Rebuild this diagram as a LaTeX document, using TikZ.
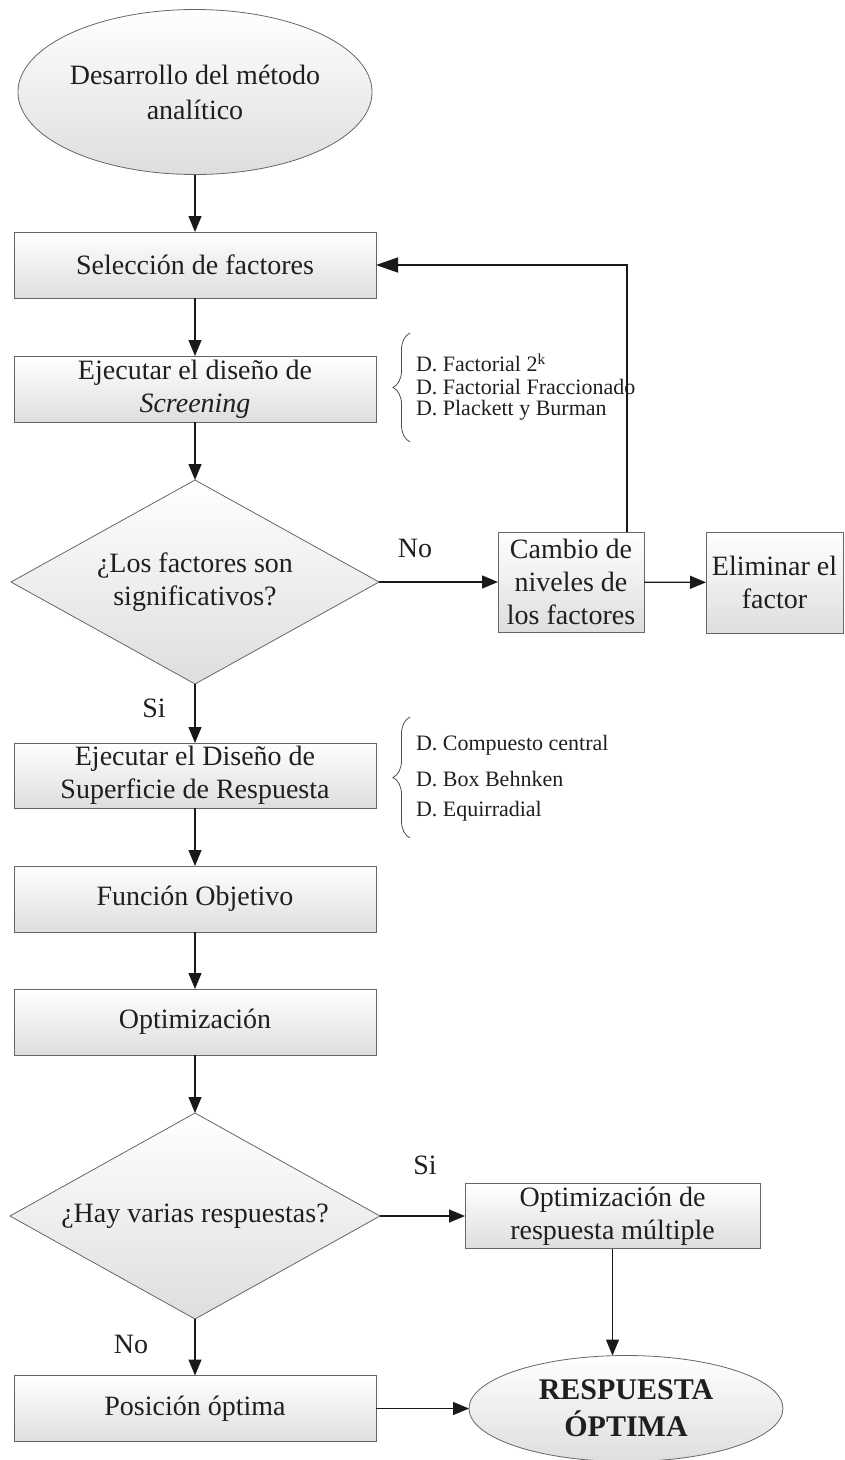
\documentclass[tikz,border=0pt]{standalone}
\usepackage{fontspec}
\setmainfont{Liberation Serif}
\usetikzlibrary{shapes.geometric,arrows.meta,decorations.pathreplacing}

\begin{document}
\begin{tikzpicture}[x=1pt,y=-1pt,
  every node/.style={inner sep=0pt, outer sep=0pt, text=black!88},
  shapebase/.style={draw=black!60, line width=0.8pt, top color=white, bottom color=black!13},
  procbox/.style={shapebase, rectangle, align=center, font=\fontsize{28}{33}\selectfont},
  termo/.style={shapebase, ellipse, align=center},
  decision/.style={shapebase, diamond, minimum width=368pt, minimum height=204pt},
  lbl/.style={font=\fontsize{28}{33}\selectfont, align=center},
  optlist/.style={font=\fontsize{22}{24}\selectfont, anchor=west, align=left},
  conn/.style={line width=1.2pt, draw=black!90, -{Triangle[length=16pt,width=13pt]}},
  bigconn/.style={line width=1.4pt, draw=black!90, -{Triangle[length=22pt,width=15pt]}},
  bracket/.style={draw=black!70, line width=0.8pt, decorate, decoration={brace, amplitude=17pt}}
]
\useasboundingbox (0,0) rectangle (845,1460);

% start
\node[termo, minimum width=330pt, minimum height=165pt,
      font=\fontsize{28}{35}\selectfont] (top) at (195,92)
  {Desarrollo del método\\analítico};

% main column
\node[procbox, minimum width=362pt, minimum height=66pt] (sel) at (195,265)
  {Selección de factores};
\node[procbox, minimum width=362pt, minimum height=66pt] (scr) at (195,389)
  {Ejecutar el diseño de\\\textit{Screening}};
\node[decision] (d1) at (195,582) {};
\node[lbl] (d1t) at (d1) {¿Los factores son\\significativos?};

\node[procbox, minimum width=146pt, minimum height=100pt] (cam) at (571,582)
  {Cambio de\\niveles de\\los factores};
\node[procbox, minimum width=137pt, minimum height=101pt] (eli) at (774.5,582.5)
  {Eliminar el\\factor};

\node[procbox, minimum width=362pt, minimum height=65pt] (sup) at (195,775.5)
  {Ejecutar el Diseño de\\Superficie de Respuesta};
\node[procbox, minimum width=362pt, minimum height=66pt] (fun) at (195,899)
  {Función Objetivo};
\node[procbox, minimum width=362pt, minimum height=66pt] (opt) at (195,1022)
  {Optimización};
\node[decision, minimum width=370pt, minimum height=206pt] (d2) at (195,1216) {};
\node[lbl] (d2t) at (d2) {¿Hay varias respuestas?};

\node[procbox, minimum width=295pt, minimum height=65pt] (mul) at (612.5,1216)
  {Optimización de\\respuesta múltiple};
\node[procbox, minimum width=362pt, minimum height=66pt] (pos) at (195,1408.5)
  {Posición óptima};
\node[termo, minimum width=314pt, minimum height=106pt,
      font=\fontsize{30}{37}\selectfont\bfseries] (res) at (626,1408.5)
  {RESPUESTA\\ÓPTIMA};

% design options
\draw[bracket] (410,442) -- (410,333);
\node[optlist] (l1a) at (416,363) {D. Factorial 2\textsuperscript{k}};
\node[optlist] (l1b) at (416,387) {D. Factorial Fraccionado};
\node[optlist] (l1c) at (416,410) {D. Plackett y Burman};

\draw[bracket] (410,838) -- (410,717);
\node[optlist] (l2a) at (416,745) {D. Compuesto central};
\node[optlist] (l2b) at (416,779) {D. Box Behnken};
\node[optlist] (l2c) at (416,811) {D. Equirradial};

% branch labels
\node[lbl] (no1) at (415,548) {No};
\node[lbl] (si1) at (154,708) {Si};
\node[lbl] (si2) at (425,1165) {Si};
\node[lbl] (no2) at (131,1344) {No};

% connectors
\coordinate (fb) at (627,265);
\draw[conn] (top) -- (sel);
\draw[conn] (sel) -- (scr);
\draw[conn] (scr) -- (d1);
\draw[conn] (d1) -- (cam);
\draw[conn] (cam) -- (eli);
\draw[bigconn] (cam.north -| fb) -- (fb) -- (sel.east);
\draw[conn] (d1) -- (sup);
\draw[conn] (sup) -- (fun);
\draw[conn] (fun) -- (opt);
\draw[conn] (opt) -- (d2);
\draw[conn] (d2) -- (mul);
\draw[conn] (d2) -- (pos);
\draw[conn] (mul.south) -- (mul.south |- res.north);
\draw[conn] (pos) -- (res);
\end{tikzpicture}
\end{document}
